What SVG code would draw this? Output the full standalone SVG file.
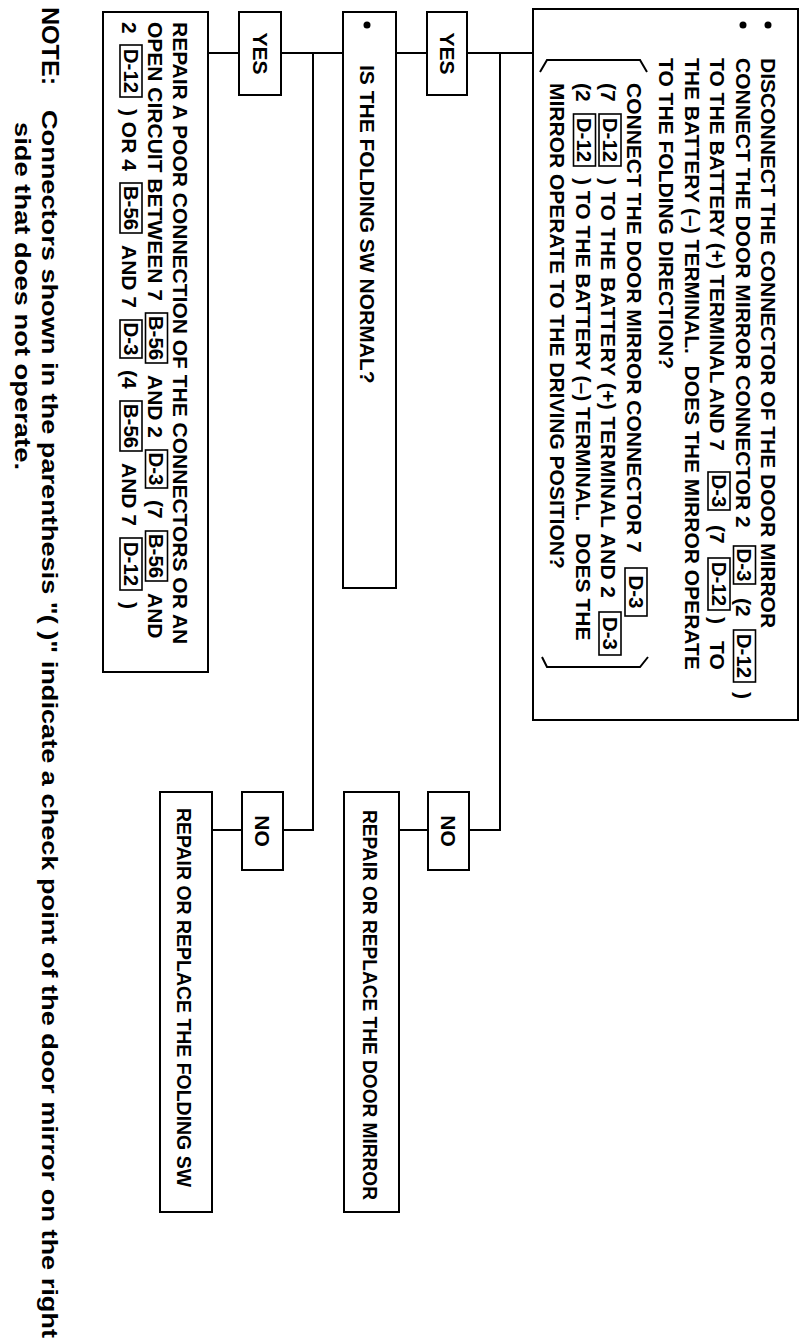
<svg xmlns="http://www.w3.org/2000/svg" width="806" height="1344" viewBox="0 0 806 1344">
<style>
.box{fill:#fff;stroke:#000;stroke-width:2}
.tag{fill:none;stroke:#000;stroke-width:1.6}
.conn{fill:none;stroke:#000;stroke-width:2}
.t{font-family:"Liberation Sans",Arial,sans-serif;font-weight:bold;font-size:21px;fill:#000}
.tg{font-family:"Liberation Sans",Arial,sans-serif;font-weight:bold;font-size:20.5px;fill:#000;text-anchor:middle}
.c{text-anchor:middle}
.s{font-size:19.5px}
.nt{font-family:"Liberation Sans",Arial,sans-serif;font-weight:bold;font-size:22px;fill:#000}
</style>
<rect x="0" y="0" width="806" height="1344" fill="#fff"/>
<g transform="translate(806 0) rotate(90)">
<g id="connectors">
<path class="conn" d="M53 273V339M53 379V410M53 306H830V337M830 378V407M53 463V525M53 567V598M53 493H830V523M830 564V594"/>
</g>
<g id="check-mirror">
<rect class="box" x="9" y="8" width="711" height="265"/>
<circle cx="25" cy="38" r="3.5"/>
<circle cx="25" cy="63" r="3.5"/>
<text class="t" x="58" y="45">DISCONNECT THE CONNECTOR OF THE DOOR MIRROR</text>
<text class="t" x="58" y="70.5">CONNECT THE DOOR MIRROR CONNECTOR 2</text>
<rect class="tag" x="546" y="50.5" width="38" height="22"/><text class="tg" x="565" y="69">D-3</text>
<text class="t" x="598" y="70.5">(2</text>
<rect class="tag" x="630" y="50.5" width="52" height="22"/><text class="tg" x="656" y="69">D-12</text>
<text class="t" x="692" y="70.5">)</text>
<text class="t" x="58" y="96">TO THE BATTERY (+) TERMINAL AND 7</text>
<rect class="tag" x="472" y="76" width="38" height="22"/><text class="tg" x="491" y="94.5">D-3</text>
<text class="t" x="525" y="96">(7</text>
<rect class="tag" x="558" y="76" width="52" height="22"/><text class="tg" x="584" y="94.5">D-12</text>
<text class="t" x="617" y="96">)</text>
<text class="t" x="641" y="96">TO</text>
<text class="t" x="58" y="121.5" xml:space="preserve">THE BATTERY (–) TERMINAL.  DOES THE MIRROR OPERATE</text>
<text class="t" x="58" y="147">TO THE FOLDING DIRECTION?</text>
<path class="conn" d="M72 266L60 259L60 166L72 159M657 264L667 259L667 166L657 158"/>
<text class="t" x="83" y="179">CONNECT THE DOOR MIRROR CONNECTOR 7</text>
<rect class="tag" x="568" y="159" width="48" height="22"/><text class="tg" x="592" y="177.5">D-3</text>
<text class="t" x="83" y="205">(7</text>
<rect class="tag" x="114" y="185" width="52" height="22"/><text class="tg" x="140" y="203.5">D-12</text>
<text class="t" x="178" y="205" textLength="420" lengthAdjust="spacing">) TO THE BATTERY (+) TERMINAL AND 2</text>
<rect class="tag" x="612" y="185" width="43" height="22"/><text class="tg" x="633.5" y="203.5">D-3</text>
<text class="t" x="83" y="230.5">(2</text>
<rect class="tag" x="114" y="210.5" width="52" height="22"/><text class="tg" x="140" y="229">D-12</text>
<text class="t" x="178" y="230.5" xml:space="preserve">) TO THE BATTERY (–) TERMINAL.  DOES THE</text>
<text class="t" x="83" y="256">MIRROR OPERATE TO THE DRIVING POSITION?</text>
</g>
<g id="yes-1">
<rect class="box" x="12" y="339" width="83" height="40"/>
<text class="t c" x="53.5" y="366.5">YES</text>
</g>
<g id="no-1">
<rect class="box" x="792" y="337" width="78" height="41"/>
<text class="t c" x="831" y="365">NO</text>
</g>
<g id="replace-mirror">
<rect class="box" x="792" y="407" width="420" height="55"/>
<text class="t s" x="810" y="443" textLength="390" lengthAdjust="spacingAndGlyphs">REPAIR OR REPLACE THE DOOR MIRROR</text>
</g>
<g id="check-folding-sw">
<rect class="box" x="12" y="410" width="576" height="53"/>
<circle cx="25" cy="439" r="3.5"/>
<text class="t" x="65" y="446">IS THE FOLDING SW NORMAL?</text>
</g>
<g id="yes-2">
<rect class="box" x="12" y="525" width="83" height="42"/>
<text class="t c" x="53.5" y="553">YES</text>
</g>
<g id="no-2">
<rect class="box" x="792" y="523" width="78" height="41"/>
<text class="t c" x="831" y="551">NO</text>
</g>
<g id="replace-folding-sw">
<rect class="box" x="792" y="594" width="420" height="52"/>
<text class="t s" x="808" y="629" textLength="379" lengthAdjust="spacingAndGlyphs">REPAIR OR REPLACE THE FOLDING SW</text>
</g>
<g id="repair-connection">
<rect class="box" x="12" y="598" width="660" height="105"/>
<text class="t" x="22" y="633">REPAIR A POOR CONNECTION OF THE CONNECTORS OR AN</text>
<text class="t" x="22" y="658.5">OPEN CIRCUIT BETWEEN 7</text>
<rect class="tag" x="313" y="638.5" width="50" height="22"/><text class="tg" x="338" y="657">B-56</text>
<text class="t" x="375" y="658.5">AND 2</text>
<rect class="tag" x="450" y="638.5" width="38" height="22"/><text class="tg" x="469" y="657">D-3</text>
<text class="t" x="500" y="658.5">(7</text>
<rect class="tag" x="531" y="638.5" width="50" height="22"/><text class="tg" x="556" y="657">B-56</text>
<text class="t" x="593" y="658.5">AND</text>
<text class="t" x="22" y="684">2</text>
<rect class="tag" x="45" y="664" width="52" height="22"/><text class="tg" x="71" y="682.5">D-12</text>
<text class="t" x="109" y="684">) OR 4</text>
<rect class="tag" x="183" y="664" width="50" height="22"/><text class="tg" x="208" y="682.5">B-56</text>
<text class="t" x="245" y="684">AND 7</text>
<rect class="tag" x="320" y="664" width="38" height="22"/><text class="tg" x="339" y="682.5">D-3</text>
<text class="t" x="370" y="684">(4</text>
<rect class="tag" x="401" y="664" width="50" height="22"/><text class="tg" x="426" y="682.5">B-56</text>
<text class="t" x="463" y="684">AND 7</text>
<rect class="tag" x="538" y="664" width="52" height="22"/><text class="tg" x="564" y="682.5">D-12</text>
<text class="t" x="602" y="684">)</text>
</g>
<g id="note">
<text class="t" x="7" y="764" style="font-size:23px" textLength="78" lengthAdjust="spacingAndGlyphs">NOTE:</text>
<text class="nt" x="110" y="764" textLength="1228" lengthAdjust="spacingAndGlyphs">Connectors shown in the parenthesis "( )" indicate a check point of the door mirror on the right</text>
<text class="nt" x="122" y="791" textLength="348" lengthAdjust="spacingAndGlyphs">side that does not operate.</text>
</g>
</g>
</svg>
